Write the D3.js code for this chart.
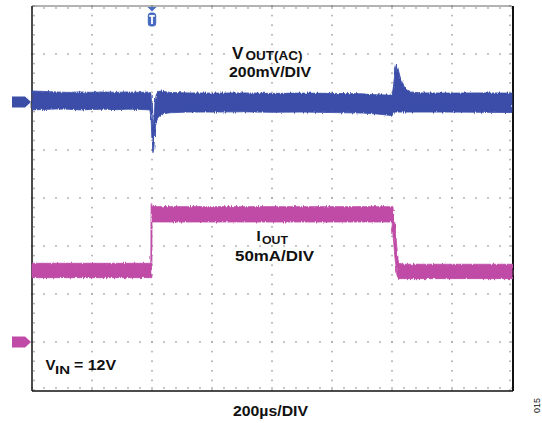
<!DOCTYPE html>
<html>
<head>
<meta charset="utf-8">
<script src="https://cdn.jsdelivr.net/npm/d3@7"></script>
<style>
  html, body { margin: 0; padding: 0; background: #fff; }
  svg { display: block; }
  text { font-family: "Liberation Sans", Arial, Helvetica, sans-serif; font-weight: bold; fill: #111; }
</style>
</head>
<body>
<svg id="scope" width="542" height="423"></svg>
<script>
// Time base: 8 horizontal divisions at 200 µs/DIV
const timeDivs = 8;
const usPerDiv = 200;
// Vertical: 8 divisions; CH1 200 mV/DIV, CH2 50 mA/DIV
const vDivs = 8;
const mVPerDiv = 200;
const mAPerDiv = 50;
// Ground-marker offsets in divisions from screen centre
const voutOffsetDiv = 2;
const ioutOffsetDiv = -3;

// VOUT(AC) trace envelope: time (µs), upper and lower edge (mV)
const voutTime = [0, 40, 80, 120, 160, 200, 240, 280, 320, 360, 393, 397, 400, 403, 406, 410, 414, 420, 433, 460,
                  520, 600, 700, 800, 900, 1000, 1100, 1150, 1195, 1200, 1205, 1210, 1215, 1220, 1227, 1237, 1247, 1260,
                  1300, 1400, 1500, 1600];
const voutHigh = [46, 44, 42, 40, 42, 40, 42, 40, 42, 40, 42, 35, -40, -100, -70, 0, 30, 44, 46, 40,
                  38, 37, 38, 36, 37, 36, 34, 30, 29, 29, 65, 125, 158, 140, 105, 72, 52, 42,
                  38, 37, 38, 37];
const voutLow  = [-33, -31, -29, -30, -33, -31, -30, -32, -30, -31, -33, -70, -170, -212, -195, -120, -85, -65, -50, -45,
                  -42, -42, -41, -43, -42, -44, -46, -50, -56, -58, -44, -42, -42, -42, -42, -42, -42, -42,
                  -42, -42, -43, -44];

// IOUT trace envelope: time (µs), upper and lower edge (mA)
const ioutTime = [0, 100, 200, 300, 396, 397, 399.5, 400, 403, 500, 600, 700, 800, 900, 1000, 1100, 1200, 1203, 1210,
                  1217, 1222, 1233, 1300, 1400, 1500, 1600];
const ioutHigh = [82, 82, 82, 82, 82, 144, 144, 141, 141, 141, 141, 141, 141, 141, 141, 141, 141, 141, 122,
                  96, 82, 81, 81, 81, 81, 81];
const ioutLow  = [67, 67, 67, 67, 67, 67, 67, 125, 125, 125, 125, 125, 125, 125, 125, 125, 125, 112, 88,
                  69, 66, 66, 66, 66, 66, 66];

// Trigger position (µs)
const triggerTime = 400;

// Annotation text
const voutLabel = "V", voutSub = "OUT(AC)", voutScale = "200mV/DIV";
const ioutLabel = "I", ioutSub = "OUT", ioutScale = "50mA/DIV";
const vinLabel = "V", vinSub = "IN", vinValue = "= 12V";
const timeLabel = "200µs/DIV";
const figId = "015";

const BLUE = "#3a4ea8";
const PINK = "#bf4ba7";
const DOT = "#a9a9a9";

const svg = d3.select("#scope");
const fL = 32, fR = 512, fT = 6, fB = 390;

const x = d3.scaleLinear().domain([0, timeDivs * usPerDiv]).range([fL, fR]);
const yDiv = d3.scaleLinear().domain([-vDivs / 2, vDivs / 2]).range([fB, fT]);
const yV = d3.scaleLinear()
  .domain([(-vDivs / 2 - voutOffsetDiv) * mVPerDiv, (vDivs / 2 - voutOffsetDiv) * mVPerDiv])
  .range([fB, fT]);
const yI = d3.scaleLinear()
  .domain([(-vDivs / 2 - ioutOffsetDiv) * mAPerDiv, (vDivs / 2 - ioutOffsetDiv) * mAPerDiv])
  .range([fB, fT]);

// Dotted graticule
const grid = svg.append("g").attr("fill", DOT);
const majorT = d3.range(0, timeDivs * usPerDiv + 1, usPerDiv);
const minorT = d3.range(0, timeDivs * usPerDiv + 1, usPerDiv / 5);
const majorV = d3.range(-vDivs / 2, vDivs / 2 + 0.001, 1);
const minorV = d3.range(-vDivs / 2, vDivs / 2 + 0.001, 0.2);
const dots = [];
majorT.slice(1, -1).forEach(t => minorV.forEach(v => dots.push([x(t), yDiv(v)])));
majorV.slice(1, -1).forEach(v => minorT.forEach(t => dots.push([x(t), yDiv(v)])));
// tick dots just inside the frame edges
minorV.forEach(v => { dots.push([fL + 2, yDiv(v)]); dots.push([fR - 2, yDiv(v)]); });
minorT.forEach(t => { dots.push([x(t), fT + 2]); dots.push([x(t), fB - 2]); });
grid.selectAll("rect").data(dots).join("rect")
  .attr("x", d => d[0] - 0.8).attr("y", d => d[1] - 0.8)
  .attr("width", 1.6).attr("height", 1.6);

// Frame
svg.append("line").attr("x1", fL).attr("x2", fR).attr("y1", fT).attr("y2", fT)
  .attr("stroke", "#666").attr("stroke-width", 1);
svg.append("line").attr("x1", fL).attr("x2", fL).attr("y1", fT).attr("y2", fB + 1)
  .attr("stroke", "#111").attr("stroke-width", 1.5);
svg.append("line").attr("x1", fL).attr("x2", fR + 1).attr("y1", fB + 1).attr("y2", fB + 1)
  .attr("stroke", "#111").attr("stroke-width", 1.5);
svg.append("line").attr("x1", fR + 1).attr("x2", fR + 1).attr("y1", fT).attr("y2", fB + 1)
  .attr("stroke", "#111").attr("stroke-width", 2);

// Persistence-style grain on the trace edges
const defs = svg.append("defs");
const grain = defs.append("filter").attr("id", "grain")
  .attr("x", "-2%").attr("y", "-20%").attr("width", "104%").attr("height", "140%");
grain.append("feTurbulence").attr("type", "fractalNoise")
  .attr("baseFrequency", "0.9 0.08").attr("numOctaves", 2).attr("seed", 3).attr("result", "noise");
grain.append("feDisplacementMap").attr("in", "SourceGraphic").attr("in2", "noise")
  .attr("scale", 3.2).attr("xChannelSelector", "A").attr("yChannelSelector", "R").attr("result", "disp");
grain.append("feGaussianBlur").attr("in", "disp").attr("stdDeviation", 0.35);

// Traces
const voutData = voutTime.map((t, i) => ({ t, hi: voutHigh[i], lo: voutLow[i] }));
const ioutData = ioutTime.map((t, i) => ({ t, hi: ioutHigh[i], lo: ioutLow[i] }));

svg.append("path").datum(ioutData)
  .attr("d", d3.area().x(d => x(d.t)).y0(d => yI(d.lo)).y1(d => yI(d.hi)))
  .attr("fill", PINK).attr("stroke", PINK).attr("stroke-width", 0.8)
  .attr("filter", "url(#grain)");
svg.append("path").datum(voutData)
  .attr("d", d3.area().x(d => x(d.t)).y0(d => yV(d.lo)).y1(d => yV(d.hi)))
  .attr("fill", BLUE).attr("stroke", BLUE).attr("stroke-width", 0.8)
  .attr("filter", "url(#grain)");

// Ground markers on the left edge
function groundMarker(yPos, color) {
  const h = 11, x0 = 12, x1 = 25, x2 = 31;
  svg.append("path")
    .attr("d", `M${x0},${yPos - h / 2}L${x1},${yPos - h / 2}L${x2},${yPos}L${x1},${yPos + h / 2}L${x0},${yPos + h / 2}Z`)
    .attr("fill", color);
}
groundMarker(yV(0), BLUE);
groundMarker(yI(0), PINK);

// Trigger marker at the top
const tx = x(triggerTime);
const trig = svg.append("g").attr("fill", "#4a6cc0");
trig.append("path").attr("d", `M${tx - 4.5},${fT + 1}L${tx + 4.5},${fT + 1}L${tx},${fT + 5.5}Z`);
trig.append("rect").attr("x", tx - 4.2).attr("y", fT + 6.5).attr("width", 8.4).attr("height", 14).attr("rx", 3.5);
trig.append("rect").attr("x", tx - 2.8).attr("y", fT + 9).attr("width", 5.6).attr("height", 1.8).attr("fill", "#fff");
trig.append("rect").attr("x", tx - 0.9).attr("y", fT + 9).attr("width", 1.8).attr("height", 9).attr("fill", "#fff");

// Labels
function txt(s, xPos, yPos, size, len) {
  const t = svg.append("text").attr("x", xPos).attr("y", yPos).attr("font-size", size).text(s);
  if (len) t.attr("textLength", len).attr("lengthAdjust", "spacingAndGlyphs");
  return t;
}
txt(voutLabel, 232, 59, 17);
txt(voutSub, 245.5, 60, 12, 57);
txt(voutScale, 229, 76.5, 15, 82);

txt(ioutLabel, 256.5, 241, 15);
txt(ioutSub, 262, 244, 11.5, 26);
txt(ioutScale, 235, 260.5, 15, 79);

txt(vinLabel, 45.5, 370, 15);
txt(vinSub, 55, 373.5, 11, 15);
txt(vinValue, 74, 370, 15, 42);

txt(timeLabel, 233, 416, 15, 75);

svg.append("text").attr("transform", "translate(540,413) rotate(-90)")
  .attr("font-size", 9).style("font-weight", "normal")
  .attr("fill", "#333").text(figId);
</script>
</body>
</html>
